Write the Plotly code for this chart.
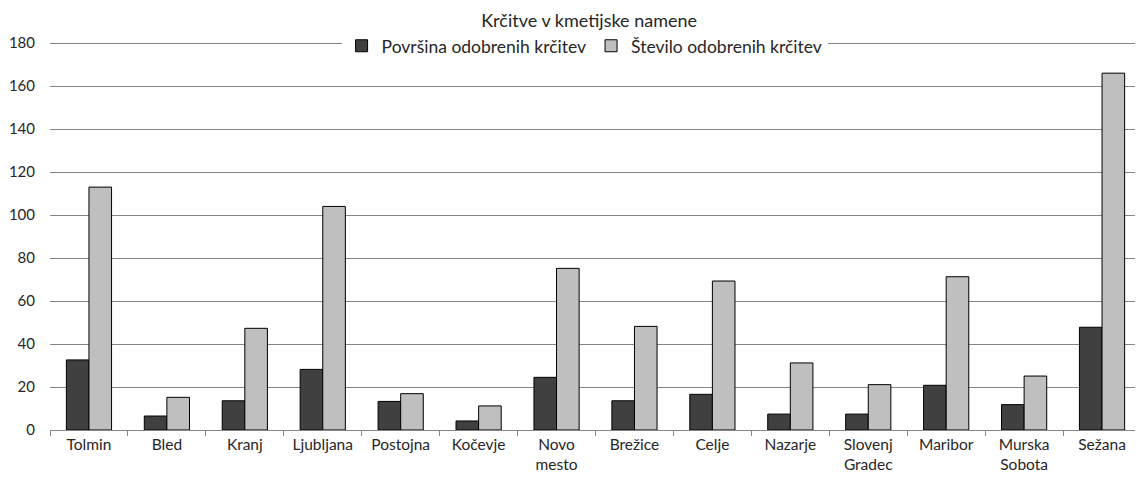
import plotly.graph_objects as go

categories = ["Tolmin", "Bled", "Kranj", "Ljubljana", "Postojna", "Kočevje", "Novo<br>mesto",
              "Brežice", "Celje", "Nazarje", "Slovenj<br>Gradec", "Maribor", "Murska<br>Sobota", "Sežana"]
povrsina = [32.6, 6.5, 13.6, 28.2, 13.3, 4.2, 24.5, 13.6, 16.6, 7.4, 7.4, 20.8, 11.8, 47.8]
stevilo = [113, 15.2, 47.3, 104, 16.9, 11.2, 75.2, 48.2, 69.3, 31.2, 21.1, 71.3, 25.1, 166]
y_ticks = [0, 20, 40, 60, 80, 100, 120, 140, 160, 180]

FONT = "Lato, Open Sans, sans-serif"
TXT = "#262626"

fig = go.Figure()
fig.add_trace(go.Bar(x=categories, y=povrsina, name="Površina odobrenih krčitev",
                     marker=dict(color="#404040", line=dict(color="#000000", width=1))))
fig.add_trace(go.Bar(x=categories, y=stevilo, name="Število odobrenih krčitev",
                     marker=dict(color="#bfbfbf", line=dict(color="#000000", width=1))))

W, H = 1135, 471
fig.update_layout(
    width=W, height=H,
    margin=dict(l=42, r=2, t=34, b=49),
    paper_bgcolor="white", plot_bgcolor="white",
    barmode="group", bargap=0.42, bargroupgap=0,
    font=dict(family=FONT, size=15.5, color=TXT),
    title=dict(text="Krčitve v kmetijske namene", x=0.512, xanchor="center",
               y=1 - 13 / H, yanchor="middle", font=dict(size=18, color=TXT)),
    legend=dict(orientation="h", x=0.49, xanchor="center",
                y=0.99, yanchor="middle",
                bgcolor="white", font=dict(size=17.5, color=TXT),
                itemwidth=30, tracegroupgap=0),
    xaxis=dict(showgrid=False, showline=True, linecolor="#868686", linewidth=1,
               ticks="outside", tickson="boundaries", ticklen=5, tickcolor="#868686",
               tickfont=dict(size=15.5), automargin=False),
    yaxis=dict(range=[0, 180.5], tickvals=y_ticks, showgrid=True, gridcolor="#868686",
               gridwidth=1, zeroline=False, showline=False, ticks="",
               ticklabelstandoff=14, tickfont=dict(size=15), automargin=False),
)

fig.write_html("out.html")
